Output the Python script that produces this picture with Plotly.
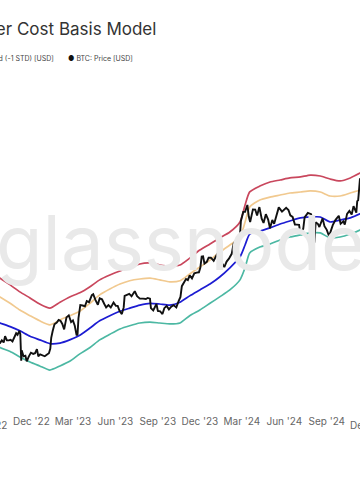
import plotly.graph_objects as go
import pandas as pd

# ---------------- data ----------------
band_dates = [
    "2022-09-02", "2022-09-24", "2022-10-16", "2022-11-06", "2022-11-28", "2022-12-19",
    "2023-01-10", "2023-02-01", "2023-02-22", "2023-03-16", "2023-04-07", "2023-04-28",
    "2023-05-20", "2023-06-11", "2023-07-02", "2023-07-24", "2023-08-15", "2023-09-05",
    "2023-09-27", "2023-10-19", "2023-11-09", "2023-12-01", "2023-12-23", "2024-01-13",
    "2024-02-04", "2024-02-26", "2024-03-08", "2024-03-18", "2024-04-09", "2024-05-01",
    "2024-05-23", "2024-06-13", "2024-07-06", "2024-07-27", "2024-08-18", "2024-09-08",
    "2024-09-30", "2024-10-22", "2024-11-12", "2024-11-20",
]
# STH cost basis +2 STD (k USD)
band_plus2 = [38.0, 35.7, 33.4, 31.2, 29.4, 27.7, 26.6, 28.2, 29.7, 30.9, 32.8, 35.1,
              36.8, 38.3, 39.5, 41.0, 41.4, 40.6, 40.2, 40.6, 43.4, 47.0, 49.9, 52.9,
              56.1, 61.9, 73.1, 83.1, 88.0, 91.6, 93.4, 95.3, 96.2, 98.0, 97.1, 94.3,
              92.5, 95.3, 99.9, 101.9]
# STH cost basis +1 STD
band_plus1 = [31.5, 29.7, 27.9, 26.1, 24.7, 23.5, 22.6, 23.7, 24.7, 25.8, 27.9, 30.3,
              32.1, 33.7, 34.8, 35.4, 35.7, 35.1, 34.4, 34.8, 37.2, 39.8, 42.6, 46.1,
              49.4, 53.4, 61.9, 71.7, 76.8, 79.0, 80.6, 82.2, 83.0, 83.9, 83.0, 79.8,
              79.8, 82.2, 84.7, 86.4]
# STH cost basis
band_mid = [23.9, 23.0, 22.2, 21.3, 20.2, 19.5, 18.8, 18.9, 19.5, 20.4, 21.9, 23.5,
            24.7, 25.8, 26.6, 27.4, 27.9, 27.7, 27.4, 28.2, 30.0, 31.8, 33.7, 36.1,
            39.5, 43.9, 49.4, 55.0, 56.6, 58.4, 60.7, 62.5, 64.4, 65.0, 65.0, 61.9,
            63.1, 64.4, 67.0, 68.3]
# STH cost basis -1 STD
band_minus1 = [19.1, 18.1, 17.4, 16.5, 15.7, 15.1, 14.5, 15.1, 15.8, 17.0, 18.1, 19.5,
               20.6, 21.7, 22.4, 23.0, 23.2, 23.0, 22.8, 23.0, 24.7, 26.1, 27.9, 29.7,
               31.8, 35.1, 39.5, 45.7, 48.4, 49.9, 51.9, 53.4, 54.5, 55.6, 55.6, 52.9,
               53.4, 55.0, 57.2, 58.4]

price_dates = [
    "2022-09-20", "2022-09-24", "2022-09-28", "2022-10-02", "2022-10-05", "2022-10-09",
    "2022-10-13", "2022-10-17", "2022-10-21", "2022-10-25", "2022-10-29", "2022-11-01",
    "2022-11-05", "2022-11-07", "2022-11-08", "2022-11-09", "2022-11-10", "2022-11-14",
    "2022-11-18", "2022-11-21", "2022-11-25", "2022-11-30", "2022-12-05", "2022-12-09",
    "2022-12-13", "2022-12-16", "2022-12-20", "2022-12-25", "2022-12-30", "2023-01-04",
    "2023-01-08", "2023-01-11", "2023-01-13", "2023-01-16", "2023-01-20", "2023-01-25",
    "2023-01-29", "2023-02-02", "2023-02-06", "2023-02-10", "2023-02-15", "2023-02-20",
    "2023-02-25", "2023-03-01", "2023-03-05", "2023-03-09", "2023-03-11", "2023-03-13",
    "2023-03-17", "2023-03-22", "2023-03-27", "2023-03-31", "2023-04-05", "2023-04-11",
    "2023-04-14", "2023-04-19", "2023-04-24", "2023-04-28", "2023-05-03", "2023-05-08",
    "2023-05-12", "2023-05-17", "2023-05-22", "2023-05-28", "2023-06-02", "2023-06-06",
    "2023-06-10", "2023-06-15", "2023-06-19", "2023-06-21", "2023-06-26", "2023-07-01",
    "2023-07-06", "2023-07-13", "2023-07-18", "2023-07-24", "2023-07-31", "2023-08-06",
    "2023-08-10", "2023-08-15", "2023-08-17", "2023-08-22", "2023-08-29", "2023-09-01",
    "2023-09-06", "2023-09-11", "2023-09-15", "2023-09-20", "2023-09-25", "2023-09-30",
    "2023-10-05", "2023-10-11", "2023-10-16", "2023-10-20", "2023-10-23", "2023-10-27",
    "2023-11-01", "2023-11-05", "2023-11-09", "2023-11-14", "2023-11-19", "2023-11-24",
    "2023-11-29", "2023-12-02", "2023-12-05", "2023-12-08", "2023-12-11", "2023-12-16",
    "2023-12-20", "2023-12-25", "2023-12-31", "2024-01-05", "2024-01-11", "2024-01-14",
    "2024-01-18", "2024-01-23", "2024-01-28", "2024-02-02", "2024-02-08", "2024-02-12",
    "2024-02-17", "2024-02-22", "2024-02-26", "2024-02-28", "2024-03-04", "2024-03-08",
    "2024-03-13", "2024-03-16", "2024-03-19", "2024-03-25", "2024-03-30", "2024-04-03",
    "2024-04-08", "2024-04-13", "2024-04-17", "2024-04-22", "2024-04-27", "2024-05-01",
    "2024-05-06", "2024-05-10", "2024-05-15", "2024-05-20", "2024-05-27", "2024-06-05",
    "2024-06-10", "2024-06-14", "2024-06-19", "2024-06-24", "2024-06-28", "2024-07-03",
    "2024-07-05", "2024-07-08", "2024-07-12", "2024-07-15", "2024-07-22", "2024-07-29",
    "2024-08-02", "2024-08-05", "2024-08-08", "2024-08-13", "2024-08-16", "2024-08-23",
    "2024-08-27", "2024-09-01", "2024-09-06", "2024-09-10", "2024-09-14", "2024-09-20",
    "2024-09-27", "2024-10-01", "2024-10-07", "2024-10-10", "2024-10-15", "2024-10-20",
    "2024-10-25", "2024-10-29", "2024-11-02", "2024-11-04", "2024-11-06", "2024-11-08",
    "2024-11-09", "2024-11-10", "2024-11-12",
]
btc_price = [
    18.9, 18.9, 19.4, 19.0, 20.2, 19.4, 19.4, 19.5, 19.2, 20.1, 20.8, 20.5,
    21.3, 20.6, 18.5, 15.9, 17.6, 16.6, 16.7, 15.8, 16.5, 17.2, 17.0, 17.1,
    17.8, 16.6, 16.9, 16.8, 16.6, 16.9, 17.1, 17.9, 19.9, 21.2, 22.7, 23.1,
    23.7, 23.5, 22.8, 21.6, 24.3, 24.8, 23.2, 23.6, 22.4, 20.4, 20.6, 24.1,
    27.4, 27.3, 27.1, 28.5, 28.2, 30.2, 30.5, 28.8, 27.5, 29.3, 29.0, 27.7,
    26.8, 27.4, 26.8, 28.1, 27.2, 27.2, 25.9, 25.1, 26.8, 30.0, 30.3, 30.6,
    29.9, 31.4, 29.9, 29.2, 29.2, 29.1, 29.4, 29.2, 26.6, 26.0, 27.7, 25.9,
    25.8, 25.1, 26.6, 27.2, 26.3, 27.0, 27.4, 26.8, 28.5, 29.7, 33.0, 33.9,
    35.4, 35.0, 36.7, 35.6, 37.4, 37.7, 37.8, 39.5, 44.1, 44.2, 41.2, 41.9,
    43.6, 43.6, 42.3, 44.2, 46.3, 41.7, 41.3, 39.8, 42.0, 43.2, 45.3, 50.0,
    51.7, 51.3, 54.5, 62.5, 68.3, 68.3, 73.1, 65.3, 61.9, 70.0, 69.9, 65.9,
    71.6, 63.9, 61.3, 66.8, 63.4, 58.2, 63.1, 60.8, 66.2, 71.4, 68.5, 71.1,
    69.6, 66.0, 65.0, 60.3, 60.3, 60.2, 56.6, 56.7, 57.9, 64.7, 67.6, 66.8,
    61.4, 50.5, 61.7, 60.6, 58.9, 64.1, 59.4, 57.3, 53.9, 57.6, 60.0, 63.2,
    65.8, 60.8, 62.3, 60.3, 67.0, 69.0, 66.6, 72.3, 69.4, 67.8, 75.9, 76.5,
    80.5, 88.7, 95.0,
]

series_names = [
    "STH Cost Basis: +2 STD [USD]",
    "STH Cost Basis: +1 STD [USD]",
    "STH Cost Basis [USD]",
    "STH Cost Basis: Undervalued (-1 STD) [USD]",
    "BTC: Price [USD]",
]
series_colors = ["#c9475d", "#f1c98f", "#1c1cd2", "#4cb8a3", "#111111"]

title_text = "Short-Term Holder Cost Basis Model"
x_range = ["2022-09-24", "2024-11-12"]

# ---------------- figure ----------------
W, H = 360, 504
M_T, M_B = 70, 90
fig = go.Figure()

band_series = [band_plus2, band_plus1, band_mid, band_minus1]
for name, vals, col in zip(series_names[:4], band_series, series_colors[:4]):
    fig.add_trace(go.Scatter(
        x=band_dates, y=[v * 1000 for v in vals], mode="lines", name=name,
        line=dict(color=col, width=1.7, shape="spline", smoothing=0.6),
    ))

fig.add_trace(go.Scatter(
    x=price_dates, y=[v * 1000 for v in btc_price], mode="lines", name=series_names[4],
    line=dict(color=series_colors[4], width=1.9),
))

plot_h = H - M_T - M_B

def py(px_from_top):
    return (H - M_B - px_from_top) / plot_h

# watermark
fig.add_annotation(text="glassnode", xref="paper", yref="paper", x=0.5, y=py(242),
                   showarrow=False, font=dict(family="Inter", size=76, color="#e9e9e9"),
                   xanchor="center", yanchor="middle")

# title (cropped on the left)
fig.add_annotation(text=title_text, xref="paper", yref="paper", x=158 / W, y=py(29),
                   showarrow=False, xanchor="right", yanchor="middle",
                   font=dict(family="Inter", size=17, color="#333333"))

# legend (cropped)
fig.add_annotation(text=f"<span style='color:{series_colors[3]}'>●</span> {series_names[3]}",
                   xref="paper", yref="paper", x=56 / W, y=py(59), showarrow=False,
                   xanchor="right", yanchor="middle",
                   font=dict(family="Inter", size=7, color="#444444"))
fig.add_annotation(text=f"<span style='color:{series_colors[4]}'>●</span> {series_names[4]}",
                   xref="paper", yref="paper", x=66 / W, y=py(59), showarrow=False,
                   xanchor="left", yanchor="middle",
                   font=dict(family="Inter", size=7, color="#444444"))

# partial tick labels that fall just outside the visible range
r0, r1 = pd.Timestamp(x_range[0]), pd.Timestamp(x_range[1])
for d in ["2022-09-01", "2024-12-01"]:
    t = pd.Timestamp(d)
    fx = (t - r0) / (r1 - r0)
    fig.add_annotation(text=t.strftime("%b '%y"), xref="paper", yref="paper",
                       x=fx, y=py(425), showarrow=False, xanchor="center", yanchor="middle",
                       font=dict(family="Inter", size=10, color="#666666"))

fig.update_layout(
    width=W, height=H,
    margin=dict(l=0, r=0, t=M_T, b=M_B),
    paper_bgcolor="white", plot_bgcolor="white",
    showlegend=False,
    font=dict(family="Inter", color="#666666"),
    xaxis=dict(range=x_range, type="date", tickformat="%b '%y", dtick="M3",
               tick0="2022-12-01", showgrid=False, zeroline=False, showline=False,
               ticks="", tickfont=dict(size=10, color="#666666")),
    yaxis=dict(type="log", range=[3.9745, 5.4383], visible=False, showgrid=False),
)

fig.write_html("out.html")
